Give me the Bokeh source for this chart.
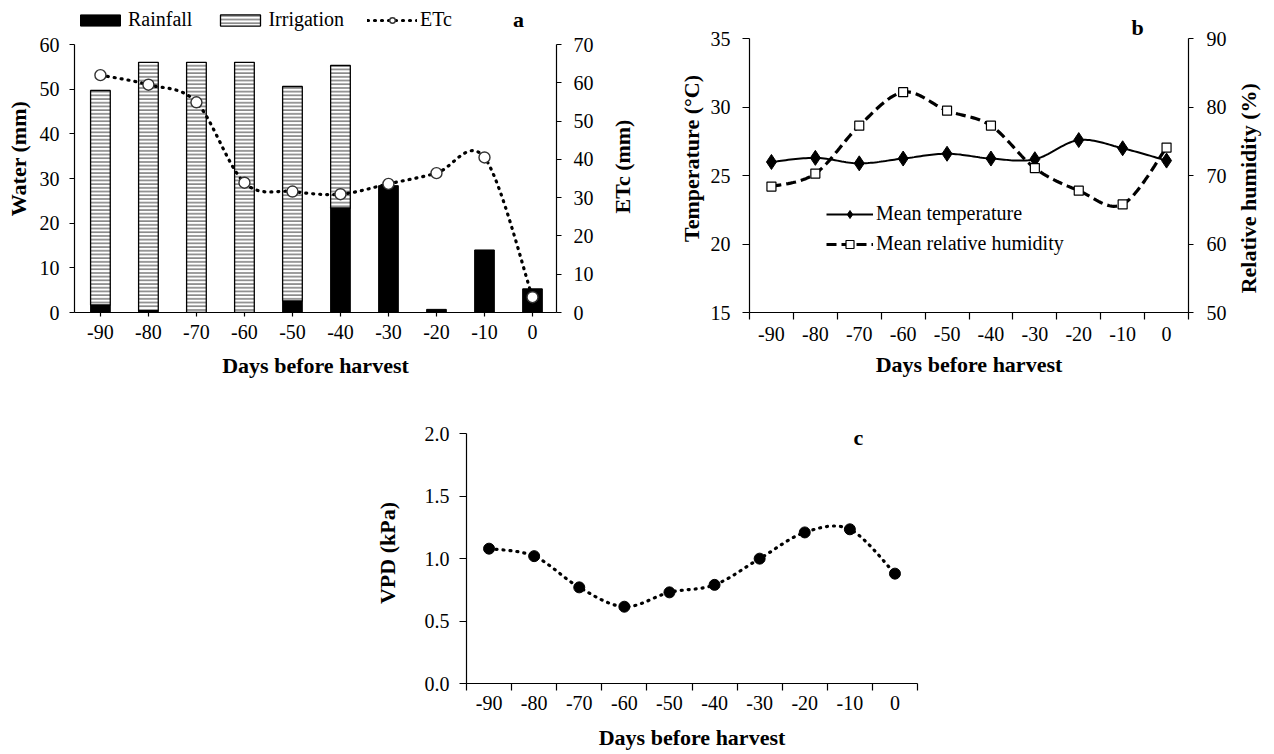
import math
from bokeh.plotting import figure
from bokeh.models import (Range1d, LinearAxis, FixedTicker, Legend, LegendItem, Label,
                          PrintfTickFormatter, Spacer, ColumnDataSource)
from bokeh.layouts import row, column
from bokeh.embed import file_html
from bokeh.resources import INLINE

# ---------------- data ----------------
days = [-90, -80, -70, -60, -50, -40, -30, -20, -10, 0]
day_labels = ["-90", "-80", "-70", "-60", "-50", "-40", "-30", "-20", "-10", "0"]
rainfall = [1.7, 0.4, 0.0, 0.0, 2.6, 23.4, 28.4, 0.7, 14.0, 5.3]
irrigation = [48.0, 55.6, 56.0, 56.0, 48.0, 31.9, 0.0, 0.0, 0.0, 0.0]
etc = [62.0, 59.5, 54.9, 33.9, 31.6, 30.9, 33.6, 36.4, 40.5, 4.0]
temperature = [26.0, 26.3, 25.9, 26.25, 26.6, 26.25, 26.2, 27.6, 27.0, 26.1]
humidity = [68.4, 70.3, 77.3, 82.2, 79.5, 77.3, 71.1, 67.8, 65.8, 74.1]
vpd = [1.08, 1.02, 0.77, 0.615, 0.73, 0.79, 1.0, 1.21, 1.235, 0.88]

water_ticks = [0, 10, 20, 30, 40, 50, 60]
etc_ticks = [0, 10, 20, 30, 40, 50, 60, 70]
temp_ticks = [15, 20, 25, 30, 35]
rh_ticks = [50, 60, 70, 80, 90]
vpd_ticks = [0.0, 0.5, 1.0, 1.5, 2.0]

FONT = "Liberation Serif"
TICK_SIZE = "20px"
TITLE_SIZE = "22px"


def smooth(xs, ys, n=20):
    """Excel-like smoothed line (Catmull-Rom as cubic Bezier) through the points."""
    pts = list(zip(xs, ys))
    N = len(pts)
    ox, oy = [], []
    for i in range(N - 1):
        p0 = pts[max(i - 1, 0)]
        p1 = pts[i]
        p2 = pts[i + 1]
        p3 = pts[min(i + 2, N - 1)]
        c1 = (p1[0] + (p2[0] - p0[0]) / 6.0, p1[1] + (p2[1] - p0[1]) / 6.0)
        c2 = (p2[0] - (p3[0] - p1[0]) / 6.0, p2[1] - (p3[1] - p1[1]) / 6.0)
        last = (i == N - 2)
        for k in range(n + (1 if last else 0)):
            t = k / n
            a = (1 - t) ** 3
            b = 3 * (1 - t) ** 2 * t
            c = 3 * (1 - t) * t ** 2
            d = t ** 3
            ox.append(a * p1[0] + b * c1[0] + c * c2[0] + d * p2[0])
            oy.append(a * p1[1] + b * c1[1] + c * c2[1] + d * p2[1])
    return ox, oy


def style_axis(ax, tick_out=5, label_standoff=8, title_standoff=6):
    ax.major_label_text_font = FONT
    ax.major_label_text_font_size = TICK_SIZE
    ax.major_label_text_color = "black"
    ax.axis_label_text_font = FONT
    ax.axis_label_text_font_size = TITLE_SIZE
    ax.axis_label_text_font_style = "bold"
    ax.axis_label_text_color = "black"
    ax.axis_line_color = "black"
    ax.axis_line_width = 1.2
    ax.major_tick_line_color = "black"
    ax.major_tick_line_width = 1.2
    ax.major_tick_in = 0
    ax.major_tick_out = tick_out
    ax.minor_tick_line_color = None
    ax.major_label_standoff = label_standoff
    ax.axis_label_standoff = title_standoff


def right_title(p, text, x, y):
    """Right-hand axis title reading bottom-to-top, placed in the right side panel."""
    p.add_layout(Label(x=x, y=y, x_units="screen", y_units="screen", text=text,
                       angle=math.pi / 2, text_font=FONT, text_font_size=TITLE_SIZE,
                       text_font_style="bold", text_color="black",
                       text_align="center", text_baseline="middle"), "right")


def category_x_axis(ax):
    """Labels at the category centres, tick marks at the category boundaries."""
    bounds = [d - 5 for d in days] + [days[-1] + 5]
    ax.ticker = FixedTicker(ticks=days, minor_ticks=bounds)
    ax.major_label_overrides = {d: s for d, s in zip(days, day_labels)}
    ax.major_tick_out = 0
    ax.major_tick_in = 0
    ax.minor_tick_line_color = "black"
    ax.minor_tick_line_width = 1.2
    ax.minor_tick_out = 7
    ax.minor_tick_in = 0


def base_fig(width, height, xr, yr, left, right, top, bottom):
    p = figure(width=width, height=height, x_range=xr, y_range=yr,
               output_backend="svg", toolbar_location=None,
               min_border_left=left, min_border_right=right,
               min_border_top=top, min_border_bottom=bottom)
    p.outline_line_color = None
    p.xgrid.visible = False
    p.ygrid.visible = False
    p.background_fill_color = "white"
    p.border_fill_color = "white"
    return p


def extended_top(lo, hi, axis_top_px, frame_top_px, frame_bottom_px):
    """Range end so that `hi` sits at axis_top_px while the frame reaches frame_top_px."""
    per_px = (hi - lo) / (frame_bottom_px - axis_top_px)
    return hi + (axis_top_px - frame_top_px) * per_px


def corner_label(p, text, x, y):
    p.add_layout(Label(x=x, y=y, x_units="screen", y_units="screen", text=text,
                       text_font=FONT, text_font_size="22px", text_font_style="bold",
                       text_color="black", text_align="center", text_baseline="middle"))


# ---------------- panel a ----------------
A_TOP, A_AXTOP, A_BOT = 4, 44, 312
pa = base_fig(658, 388, Range1d(-95.4, 5.0),
              Range1d(0, extended_top(0, 60, A_AXTOP, A_TOP, A_BOT)), 74, 102, 4, 76)
pa.extra_y_ranges = {"etc": Range1d(0, extended_top(0, 70, A_AXTOP, A_TOP, A_BOT))}
pa.xaxis.axis_label = "Days before harvest"
pa.yaxis.axis_label = "Water (mm)"
pa.yaxis.ticker = FixedTicker(ticks=water_ticks)
pa.yaxis.bounds = (0, 60)
style_axis(pa.yaxis[0], tick_out=5, label_standoff=10, title_standoff=6)
style_axis(pa.xaxis[0], tick_out=4, label_standoff=8, title_standoff=11)
pa.xaxis.ticker = FixedTicker(ticks=days)
pa.xaxis.major_label_overrides = {d: s for d, s in zip(days, day_labels)}
ax_etc = LinearAxis(y_range_name="etc", ticker=FixedTicker(ticks=etc_ticks), bounds=(0, 70))
style_axis(ax_etc, tick_out=5, label_standoff=12, title_standoff=15)
pa.add_layout(ax_etc, "right")
right_title(pa, "ETc (mm)", 26, 146)

bar_w = 4.1
rain_src = ColumnDataSource(dict(x=days, top=rainfall))
r_rain = pa.vbar(x="x", top="top", bottom=0, width=bar_w, source=rain_src,
                 fill_color="black", line_color="black", line_width=1)
irr_x = [d for d, v in zip(days, irrigation) if v > 0]
irr_bot = [r for r, v in zip(rainfall, irrigation) if v > 0]
irr_top = [r + v for r, v in zip(rainfall, irrigation) if v > 0]
irr_src = ColumnDataSource(dict(x=irr_x, bottom=irr_bot, top=irr_top))
r_irr = pa.vbar(x="x", top="top", bottom="bottom", width=bar_w, source=irr_src,
                fill_color="white", line_color="black", line_width=1.3,
                hatch_pattern="horizontal_line", hatch_color="#7a7a7a",
                hatch_scale=3.7, hatch_weight=1.5)
ex, ey = smooth(days, etc)
r_etc_line = pa.line(ex, ey, y_range_name="etc", line_color="black", line_width=3.2,
                     line_dash="1 6", line_cap="round")
r_etc_pts = pa.scatter(days, etc, y_range_name="etc", marker="circle", size=11,
                       fill_color="white", line_color="#333333", line_width=1.4)

leg_a = Legend(items=[LegendItem(label="Rainfall", renderers=[r_rain]),
                      LegendItem(label="Irrigation", renderers=[r_irr]),
                      LegendItem(label="ETc", renderers=[r_etc_line, r_etc_pts])],
               orientation="horizontal", location=(1, 281),
               glyph_width=50, glyph_height=14, label_standoff=3, spacing=23,
               padding=0, margin=0, border_line_color=None, background_fill_alpha=0,
               label_text_font=FONT, label_text_font_size="20px", label_text_color="black")
pa.add_layout(leg_a)
corner_label(pa, "a", 444, 293)

# ---------------- panel b ----------------
B_TOP, B_AXTOP, B_BOT = 4, 38.3, 312
pb = base_fig(610, 388, Range1d(-95, 5),
              Range1d(15, extended_top(15, 35, B_AXTOP, B_TOP, B_BOT)), 91, 80, 4, 76)
pb.extra_y_ranges = {"rh": Range1d(50, extended_top(50, 90, B_AXTOP, B_TOP, B_BOT))}
pb.xaxis.axis_label = "Days before harvest"
pb.yaxis.axis_label = "Temperature (\u00b0C)"
pb.yaxis.ticker = FixedTicker(ticks=temp_ticks)
pb.yaxis.bounds = (15, 35)
style_axis(pb.yaxis[0], tick_out=7, label_standoff=12, title_standoff=4)
style_axis(pb.xaxis[0], tick_out=7, label_standoff=7, title_standoff=8)
category_x_axis(pb.xaxis[0])
ax_rh = LinearAxis(y_range_name="rh", ticker=FixedTicker(ticks=rh_ticks), bounds=(50, 90))
style_axis(ax_rh, tick_out=5, label_standoff=13, title_standoff=10)
pb.add_layout(ax_rh, "right")
right_title(pb, "Relative humidity  (%)", 19, 127)

tx, ty = smooth(days, temperature)
r_t_line = pb.line(tx, ty, line_color="black", line_width=2)
r_t_pts = pb.scatter(days, temperature, marker="diamond", size=15, fill_color="black",
                     line_color="black")
hx, hy = smooth(days, humidity)
r_h_line = pb.line(hx, hy, y_range_name="rh", line_color="black", line_width=3.2,
                   line_dash="10 5")
r_h_pts = pb.scatter(days, humidity, y_range_name="rh", marker="square", size=9,
                     fill_color="white", line_color="black", line_width=1.2)
leg_b = Legend(items=[LegendItem(label="Mean temperature", renderers=[r_t_line, r_t_pts]),
                      LegendItem(label="Mean relative humidity", renderers=[r_h_line, r_h_pts])],
               location=(77, 57), glyph_width=47, glyph_height=20, label_standoff=3,
               spacing=7, padding=0, margin=0, border_line_color=None,
               background_fill_alpha=0, label_text_font=FONT,
               label_text_font_size="20px", label_text_color="black")
pb.add_layout(leg_b)
corner_label(pb, "b", 388, 285)

# ---------------- panel c ----------------
C_TOP, C_AXTOP, C_BOT = 34, 45.3, 295   # relative to the figure's top
pc = base_fig(617, 365, Range1d(-95, 5),
              Range1d(0, extended_top(0, 2, C_AXTOP, C_TOP, C_BOT)), 106, 60, 34, 70)
pc.xaxis.axis_label = "Days before harvest"
pc.yaxis.axis_label = "VPD (kPa)"
pc.yaxis.ticker = FixedTicker(ticks=vpd_ticks)
pc.yaxis.formatter = PrintfTickFormatter(format="%.1f")
pc.yaxis.bounds = (0, 2)
style_axis(pc.yaxis[0], tick_out=7, label_standoff=10, title_standoff=22)
style_axis(pc.xaxis[0], tick_out=7, label_standoff=5, title_standoff=12)
category_x_axis(pc.xaxis[0])
vx, vy = smooth(days, vpd)
pc.line(vx, vy, line_color="black", line_width=3.2, line_dash="1 6", line_cap="round")
pc.scatter(days, vpd, marker="circle", size=11, fill_color="black", line_color="black")
corner_label(pc, "c", 392, 246)

layout = column(row(pa, pb), row(Spacer(width=360, height=365), pc))
open("out.html", "w").write(file_html(layout, INLINE))
